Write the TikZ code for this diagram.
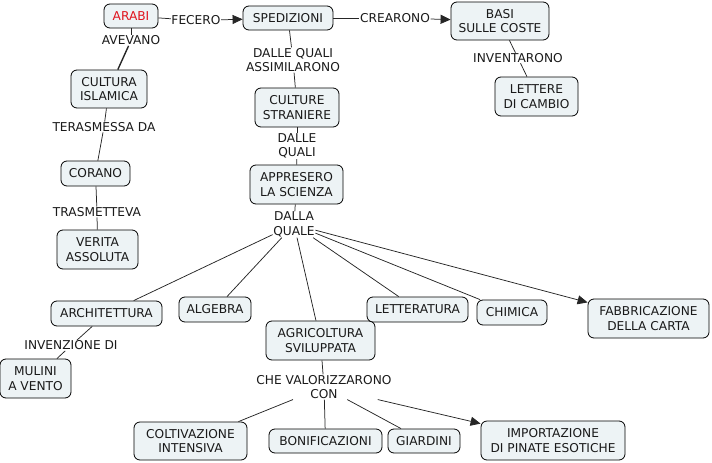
\documentclass[tikz,border=0pt]{standalone}
\usepackage{fontspec}
\setmainfont{DejaVu Sans}
\usetikzlibrary{arrows.meta}
\definecolor{cfill}{HTML}{EDF3F5}
\definecolor{ctext}{HTML}{1A1A1A}
\definecolor{cred}{HTML}{E0141E}
\newcommand\cmfont{\fontsize{12.2}{14.5}\selectfont}
\tikzset{
  concept/.style={draw=black, line width=0.8pt, fill=cfill, rounded corners=6pt, font=\cmfont, align=center, inner sep=0pt, text=ctext},
  lbl/.style={font=\cmfont, align=center, inner sep=0.5pt, text=ctext},
  link/.style={draw=black!85, line width=0.75pt},
  arr/.style={link, -{Triangle[length=10pt,width=9pt]}}
}
\begin{document}
\begin{tikzpicture}[x=1pt,y=-1pt]
\useasboundingbox (0,0) rectangle (712,463);
% concepts
\node[concept, minimum width=54pt, minimum height=24pt, text=cred] (arabi) at (131,16) {ARABI};
\node[concept, minimum width=90pt, minimum height=24pt] (sped) at (288,18) {SPEDIZIONI};
\node[concept, minimum width=98pt, minimum height=38pt] (basi) at (500,21) {BASI\\SULLE COSTE};
\node[concept, minimum width=83pt, minimum height=39pt] (lettere) at (536.5,96.5) {LETTERE\\DI CAMBIO};
\node[concept, minimum width=76pt, minimum height=38pt] (cultura) at (109,89) {CULTURA\\ISLAMICA};
\node[concept, minimum width=84pt, minimum height=39pt] (culture) at (297,107.5) {CULTURE\\STRANIERE};
\node[concept, minimum width=93pt, minimum height=39pt] (appresero) at (296.5,184.5) {APPRESERO\\LA SCIENZA};
\node[concept, minimum width=69pt, minimum height=25pt] (corano) at (95.5,173.5) {CORANO};
\node[concept, minimum width=81pt, minimum height=39pt] (verita) at (97.5,249.5) {VERITA\\ASSOLUTA};
\node[concept, minimum width=111pt, minimum height=25pt] (archi) at (106.5,313.5) {ARCHITETTURA};
\node[concept, minimum width=72pt, minimum height=25pt] (algebra) at (215,309.5) {ALGEBRA};
\node[concept, minimum width=109pt, minimum height=39pt] (agri) at (320.5,340.5) {AGRICOLTURA\\SVILUPPATA};
\node[concept, minimum width=101pt, minimum height=25pt] (lett) at (417.5,309.5) {LETTERATURA};
\node[concept, minimum width=70pt, minimum height=25pt] (chimica) at (512,312.5) {CHIMICA};
\node[concept, minimum width=121pt, minimum height=39pt] (fabb) at (648.5,318.5) {FABBRICAZIONE\\DELLA CARTA};
\node[concept, minimum width=71pt, minimum height=39pt] (mulini) at (35.5,378.5) {MULINI\\A VENTO};
\node[concept, minimum width=113pt, minimum height=38pt] (colt) at (190.5,441) {COLTIVAZIONE\\INTENSIVA};
\node[concept, minimum width=113pt, minimum height=24pt] (bonif) at (325.5,441) {BONIFICAZIONI};
\node[concept, minimum width=72pt, minimum height=24pt] (giard) at (424,441) {GIARDINI};
\node[concept, minimum width=144pt, minimum height=39pt] (import) at (553,440.5) {IMPORTAZIONE\\DI PINATE ESOTICHE};
% labels
\node[lbl] (fecero) at (196,20.5) {FECERO};
\node[lbl] (avevano) at (131,40.5) {AVEVANO};
\node[lbl] (crearono) at (395,18) {CREARONO};
\node[lbl] (assim) at (293,60) {DALLE QUALI\\ASSIMILARONO};
\node[lbl] (invent) at (518,58) {INVENTARONO};
\node[lbl] (terasm) at (104,127) {TERASMESSA DA};
\node[lbl] (dallequali) at (297,146) {DALLE\\QUALI};
\node[lbl] (trasm) at (97,212) {TRASMETTEVA};
\node[lbl] (dallaquale) at (294,224.5) {DALLA\\QUALE};
\node[lbl] (invenz) at (71,345.5) {INVENZIONE DI};
\node[lbl] (chevalor) at (324,387) {CHE VALORIZZARONO\\CON};
% connectors
\draw[link] (arabi) -- (avevano);
\draw[link, line width=1.4pt] (avevano) -- (cultura);
\draw[link] (arabi) -- (fecero);
\draw[arr] (fecero) -- (sped);
\draw[link] (sped) -- (crearono);
\draw[arr] (crearono) -- (basi);
\draw[link] (sped) -- (assim);
\draw[link] (assim) -- (culture);
\draw[link] (basi) -- (invent);
\draw[link] (invent) -- (lettere);
\draw[link] (cultura) -- (terasm);
\draw[link] (terasm) -- (corano);
\draw[link] (corano) -- (trasm);
\draw[link] (trasm) -- (verita);
\draw[link] (culture) -- (dallequali);
\draw[link] (dallequali) -- (appresero);
\draw[link] (appresero) -- (dallaquale);
\draw[link] (dallaquale) -- (archi);
\draw[link] (dallaquale) -- (algebra);
\draw[link] (dallaquale) -- (agri);
\draw[link] (dallaquale) -- (lett);
\draw[link] (dallaquale) -- (chimica);
\draw[arr] (dallaquale) -- (fabb);
\draw[link] (archi) -- (invenz);
\draw[link] (invenz) -- (mulini);
\draw[link] (agri) -- (chevalor);
\draw[link] (chevalor) -- (colt);
\draw[link] (chevalor) -- (bonif);
\draw[link] (chevalor) -- (giard);
\draw[arr] (chevalor) -- (import);
\end{tikzpicture}
\end{document}
